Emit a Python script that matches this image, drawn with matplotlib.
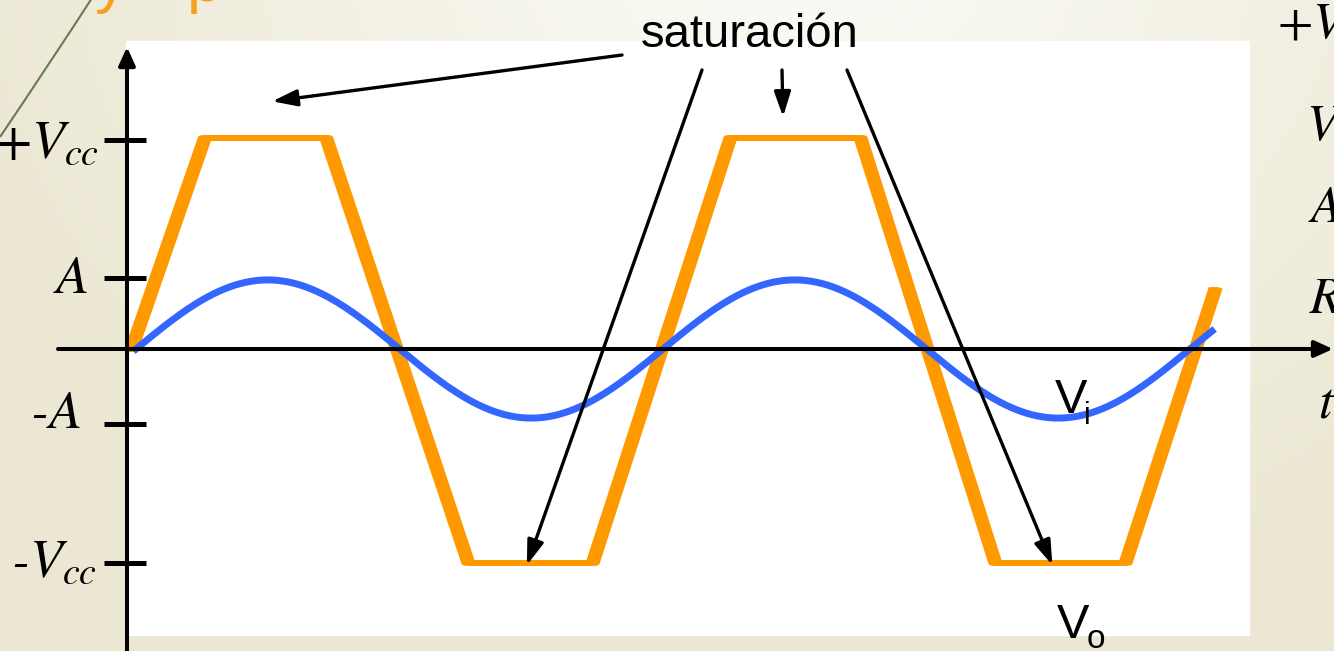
#!/usr/bin/env python3
# Saturation of an amplifier: sine input V_i and clipped output V_o

import numpy as np
import matplotlib.pyplot as plt
from matplotlib.transforms import Affine2D, offset_copy
from matplotlib.patches import Rectangle, PathPatch
from matplotlib.path import Path

W, H = 1334, 651

# input signal V_i: sine, phase in degrees, amplitude in units of A
vi_amp = 0.94
vi_end = 735

# output V_o: corners of the clipped wave (phase in degrees, level in units of A)
vo_t = [-3, 47, 130, 227, 312, 406, 495, 587, 676, 737]
vo_v = [0, 2.87, 2.87, -2.91, -2.91, 2.87, 2.87, -2.91, -2.91, 0.80]

# y ticks
tick_vals = [2.84, 0.97, -1.02, -2.91]
tick_labels = [r'$+V_{cc}$', r'$A$', '-$A$', '-$V_{cc}$']

# where the "saturación" arrows point (phase, level)
sat_t = [93, 442, 267, 626]
sat_v = [3.37, 3.16, -2.94, -2.94]

# pixel <-> data scale of the drawing
x0, kx = 136, 1.4639      # px of phase 0, px per degree
y0, ky = 349, 73.5        # px of level 0, px per unit A


def tx(px):
    return (px - x0) / kx


def vy(py):
    return (y0 - py) / ky


fig = plt.figure(figsize=(W / 100, H / 100), dpi=100)
top = Affine2D().scale(1, -1).translate(0, H)   # pixel coords measured from the top

# slide background
bg = fig.add_axes([0, 0, 1, 1], zorder=-5)
yy, xx = np.mgrid[0:H:3, 0:W:3]
d = np.clip(np.hypot((xx - 800) / 900, (yy + 50) / 700), 0, 1)[..., None]
light = np.array([0.984, 0.984, 0.968])
dark = np.array([0.922, 0.906, 0.824])
bg.imshow(light * (1 - d) + dark * d, extent=(0, W, H, 0), aspect='auto')
bg.set_axis_off()

# decorations of the slide
fig.patches.append(PathPatch(Path([(0, 137), (52, 60), (92, -2)],
                                  [Path.MOVETO, Path.CURVE3, Path.CURVE3]),
                             transform=top, fill=False, color='#667a5a', lw=1.5))
for s, x in [('y', 95), ('p', 187)]:
    fig.text(x, 1, s, transform=top, fontsize=46, color='#f6a01e',
             family='Liberation Sans', va='baseline')
for s, x, y in [('$+V$', 1277, 37), ('$V$', 1306, 140), ('$A$', 1308, 222),
                ('$R$', 1309, 313), ('$t$', 1318, 418)]:
    fig.text(x, y, s, transform=top, fontsize=37, math_fontfamily='stix',
             va='baseline')

ax = fig.add_axes([0, 0, 1, 1])
ax.set_xlim(tx(0), tx(W))
ax.set_ylim(vy(H), vy(0))
ax.set_axis_off()

# white panel
ax.add_patch(Rectangle((tx(126), vy(635)), tx(1249) - tx(126), vy(41) - vy(635),
                       color='white', zorder=0))

# input
t = np.linspace(0, vi_end, 600)
ax.plot(t, vi_amp * np.sin(np.radians(t)), color='#3366ff', lw=5, zorder=3)

# output, drawn with a wide flat "brush"
for dx in np.linspace(-4.5, 4.5, 10):
    ax.plot(vo_t, vo_v, color='#ff9900', lw=3.6, zorder=2,
            transform=offset_copy(ax.transData, fig=fig, x=dx, y=0, units='dots'))

# axes with arrow heads
head = dict(arrowstyle='-|>,head_length=0.55,head_width=0.25', color='k',
            lw=2.9, mutation_scale=20, shrinkA=0, shrinkB=0)
ax.annotate('', xy=(tx(W - 1), 0), xytext=(tx(58), 0), arrowprops=head, zorder=4)
ax.annotate('', xy=(tx(127), vy(47)), xytext=(tx(127), vy(H + 5)),
            arrowprops=head, zorder=4)

# ticks and their labels
lab_off = [(-5, -18), (-16, -15), (-23, -4), (-7, -14)]
for v, s, off in zip(tick_vals, tick_labels, lab_off):
    ax.plot([tx(104), tx(146)], [v, v], color='k', lw=3.6, zorder=4,
            solid_capstyle='butt')
    ax.annotate(s, xy=(tx(104), v), xytext=off, textcoords='offset pixels',
                ha='right', va='baseline', fontsize=39, family='STIXGeneral',
                style='italic', math_fontfamily='stix')

# annotations
ax.text(750, 47, 'saturación', transform=top, ha='center', va='baseline',
        fontsize=34, family='Liberation Sans')
arr = dict(arrowstyle='-|>,head_length=0.75,head_width=0.25', color='k',
           lw=2.4, mutation_scale=20, shrinkA=0, shrinkB=0)
starts = [(622, 55), (782, 70), (702, 70), (847, 70)]
for (sx, sy), t_, v_ in zip(starts, sat_t, sat_v):
    ax.annotate('', xy=(t_, v_), xytext=(sx, sy), textcoords=top,
                arrowprops=arr, zorder=5)

for x, y, s, fs in [(1055, 413, 'V', 35), (1084, 424, 'i', 22),
                    (1057, 638, 'V', 35), (1087, 648, 'o', 24)]:
    ax.text(x, y, s, transform=top, fontsize=fs, family='Liberation Sans',
            va='baseline', zorder=6)

plt.savefig('out.png', dpi=100)
